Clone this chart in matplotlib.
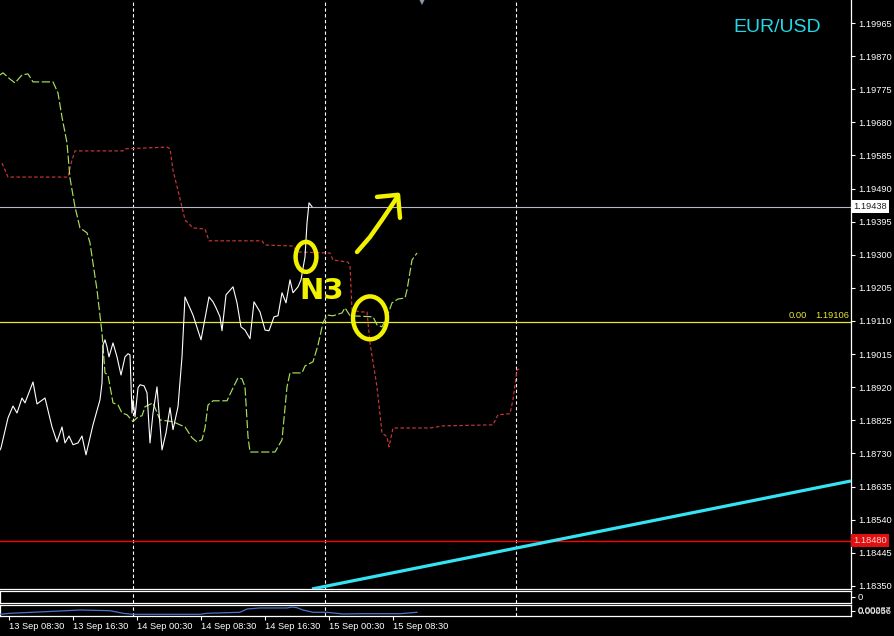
import matplotlib
matplotlib.use("Agg")
import matplotlib.pyplot as plt
from matplotlib.patches import Ellipse

plt.rcParams['font.family'] = ['Liberation Sans', 'DejaVu Sans']

# ---------------- data (x = hours after 13 Sep 08:30) ----------------
time_tick_pos = [0, 8, 16, 24, 32, 40, 48]
time_tick_labels = ['13 Sep 08:30', '13 Sep 16:30', '14 Sep 00:30', '14 Sep 08:30',
                    '14 Sep 16:30', '15 Sep 00:30', '15 Sep 08:30']
price_ticks = [1.18350, 1.18445, 1.18540, 1.18635, 1.18730, 1.18825, 1.18920, 1.19015,
               1.19110, 1.19205, 1.19300, 1.19395, 1.19490, 1.19585, 1.19680, 1.19775,
               1.19870, 1.19965]
day_separators = [15.5, 39.5, 63.375]

white_t = [-1.125, -1.0, -0.125, 0.5, 1.0, 1.625, 2.0, 3.0, 3.5, 4.5, 5.375, 6.0, 6.625, 7.0,
           7.5, 8.0, 8.625, 9.125, 9.625, 10.5, 11.375, 11.625, 11.75, 12.0, 12.25, 12.5, 13.0,
           13.5, 14.0, 14.5, 14.875, 15.125, 15.375, 15.5, 15.75, 16.125, 16.375, 16.875, 17.25,
           17.625, 18.0, 18.5, 19.125, 19.625, 20.125, 20.5, 21.125, 21.625, 22.0, 23.0, 24.0,
           25.0, 25.5, 25.875, 26.375, 26.625, 27.125, 28.0, 28.5, 29.0, 29.5, 30.125, 30.625,
           31.375, 32.0, 32.5, 33.125, 33.625, 34.125, 34.625, 35.125, 35.5, 36.125, 36.5, 37.0,
           37.25, 37.5, 37.875]
white_p = [1.18740, 1.18746, 1.18832, 1.18866, 1.18846, 1.18889, 1.18875, 1.18935, 1.18872,
           1.18889, 1.18806, 1.18763, 1.18806, 1.18760, 1.18780, 1.18755, 1.18760, 1.18780,
           1.18726, 1.18812, 1.18884, 1.18932, 1.19041, 1.19056, 1.19036, 1.19007, 1.19047,
           1.19007, 1.18955, 1.19007, 1.19016, 1.19013, 1.18846, 1.18884, 1.18835, 1.18918,
           1.18927, 1.18924, 1.18904, 1.18760, 1.18846, 1.18921, 1.18740, 1.18789, 1.18861,
           1.18798, 1.18864, 1.19007, 1.19179, 1.19127, 1.19056, 1.19179, 1.19165, 1.19148,
           1.19122, 1.19082, 1.19185, 1.19208, 1.19162, 1.19093, 1.19084, 1.19059, 1.19165,
           1.19136, 1.19084, 1.19082, 1.19122, 1.19125, 1.19191, 1.19162, 1.19228, 1.19191,
           1.19208, 1.19228, 1.19294, 1.19391, 1.19449, 1.19438]

red_t = [-0.875, -0.125, 7.375, 7.875, 8.25, 14.25, 14.5, 19.75, 20.125, 20.5, 21.625, 22.0,
         23.0, 24.5, 25.0, 31.625, 32.0, 35.5, 36.125, 40.125, 40.5, 42.375, 42.625, 42.875,
         43.875, 44.75, 45.125, 46.0, 46.625, 47.25, 47.5, 48.0, 52.625, 54.25, 60.5, 61.125,
         62.625, 63.0, 63.5, 63.875]
red_p = [1.19563, 1.19523, 1.19523, 1.19572, 1.19598, 1.19598, 1.19604, 1.19609, 1.19604,
         1.19543, 1.19437, 1.19400, 1.19377, 1.19374, 1.19340, 1.19340, 1.19328, 1.19325,
         1.19308, 1.19305, 1.19285, 1.19279, 1.19268, 1.19142, 1.19136, 1.19136, 1.19047,
         1.18921, 1.18789, 1.18778, 1.18749, 1.18803, 1.18803, 1.18809, 1.18812, 1.18841,
         1.18844, 1.18884, 1.18970, 1.18973]

green_t = [-1.125, -0.75, 0.125, 0.75, 1.625, 2.375, 3.0, 5.5, 6.125, 6.625, 7.25, 7.625, 8.25,
           8.875, 9.75, 10.125, 11.0, 11.625, 12.0, 12.375, 13.0, 13.625, 14.125, 14.75, 15.5,
           16.125, 16.625, 17.0, 18.0, 18.875, 20.5, 21.375, 22.0, 22.875, 23.5, 24.125, 24.5,
           24.875, 25.5, 27.25, 27.875, 28.625, 29.125, 29.5, 29.875, 30.125, 33.25, 34.125,
           34.75, 35.125, 36.625, 37.0, 38.0, 38.625, 39.25, 39.75, 40.5, 41.625, 42.0, 42.625,
           45.5, 46.0, 46.625, 47.25, 47.875, 48.625, 49.5, 49.75, 50.375, 51.0]
green_p = [1.19816, 1.19822, 1.19804, 1.19793, 1.19816, 1.19819, 1.19796, 1.19796, 1.19764,
           1.19695, 1.19621, 1.19520, 1.19437, 1.19377, 1.19363, 1.19334, 1.19199, 1.19076,
           1.18961, 1.18955, 1.18875, 1.18869, 1.18846, 1.18841, 1.18821, 1.18835, 1.18838,
           1.18864, 1.18875, 1.18826, 1.18821, 1.18812, 1.18806, 1.18775, 1.18763, 1.18769,
           1.18803, 1.18869, 1.18881, 1.18881, 1.18912, 1.18947, 1.18944, 1.18921, 1.18778,
           1.18734, 1.18734, 1.18769, 1.18921, 1.18961, 1.18961, 1.18981, 1.18993, 1.19041,
           1.19105, 1.19127, 1.19125, 1.19133, 1.19148, 1.19125, 1.19122, 1.19099, 1.19093,
           1.19122, 1.19162, 1.19173, 1.19176, 1.19199, 1.19285, 1.19305]

blue_t = [-1.125, 0.125, 7.25, 8.875, 12.625, 14.25, 15.5, 23.875, 24.75, 28.875, 29.75, 31.375,
          34.75, 35.375, 36.0, 36.75, 38.0, 39.75, 41.75, 43.875, 48.875, 51.0]
blue_v = [0.00037, 0.00059, 0.00116, 0.00131, 0.00116, 0.00059, 0.00037, 0.00037, 0.00059,
          0.00081, 0.00153, 0.00175, 0.00175, 0.00196, 0.00181, 0.00131, 0.00081, 0.00081,
          0.00044, 0.00050, 0.00050, 0.00081]

trend_t = [37.875, 105.25]
trend_p = [1.18341, 1.18651]

current_price = 1.19438
fibo_level = 1.19106
red_level = 1.18480
shift_marker_t = 51.625

# hand-drawn annotations (data coordinates)
ellipse1 = dict(t=37.125, p=1.19294, w=2.6, h=0.00086, angle=0)
ellipse2 = dict(t=45.125, p=1.19119, w=4.25, h=0.00123, angle=0)
n3_pos = (39.125, 1.19196)
arrow_shaft_t = [43.5, 45.125, 46.625, 47.625, 48.625]
arrow_shaft_p = [1.19308, 1.19351, 1.19400, 1.19434, 1.19469]
arrow_head_t = [46.0, 48.625, 48.875]
arrow_head_p = [1.19466, 1.19472, 1.19406]

XLIM = (-1.125, 105.25)
YLIM = (1.18341, 1.20031)

# ---------------- figure ----------------
W, H = 894, 636
fig = plt.figure(figsize=(W / 100, H / 100), dpi=100, facecolor='black')


def fax(x0, y0, x1, y1):
    return fig.add_axes([x0 / W, 1 - y1 / H, (x1 - x0) / W, (y1 - y0) / H])


ax = fax(0, 0, 851, 589)
ax1 = fax(0, 591, 851, 603)
ax2 = fax(0, 605, 851, 616)

FS = 6.7
for a in (ax, ax1, ax2):
    a.set_facecolor('black')
    a.set_xlim(*XLIM)
    for s in a.spines.values():
        s.set_color('white')
        s.set_linewidth(0.9)
    a.tick_params(axis='y', which='both', left=False, right=True, labelleft=False,
                  labelright=True, colors='white', length=3, width=0.8, pad=2,
                  labelsize=FS)
    for xs in day_separators:
        a.axvline(xs, color='white', lw=0.8, linestyle=(0, (3, 2.2)), zorder=1)

ax.spines['top'].set_visible(False)
ax.spines['left'].set_visible(False)
ax.set_ylim(*YLIM)
ax.set_yticks(price_ticks)
ax.set_yticklabels(['%.5f' % v for v in price_ticks])
ax.set_xticks([])
ax1.set_xticks([])

# horizontal levels
ax.axhline(current_price, color='#b4b8c4', lw=0.8, zorder=2)
ax.axhline(fibo_level, color='#e8e833', lw=0.9, zorder=2)
ax.axhline(red_level, color='#ff0000', lw=1.0, zorder=2, snap=True)

# indicator lines
ax.plot(red_t, red_p, color='#c83838', lw=0.85, linestyle=(0, (3, 2)), zorder=3)
ax.plot(green_t, green_p, color='#a8e05c', lw=0.85, linestyle=(0, (7, 2.2)), zorder=3)
ax.plot(white_t, white_p, color='white', lw=0.8, zorder=4)
ax.plot(trend_t, trend_p, color='#33e4f2', lw=2.3, zorder=4, solid_capstyle='butt')

# shift marker
ax.plot([shift_marker_t], [YLIM[1]], marker='v', ms=7, color='#8898a8', clip_on=False,
        zorder=6, markeredgewidth=0)

# price labels on axis
ax.annotate('%.5f' % current_price, xy=(1, current_price), xycoords=ax.get_yaxis_transform(),
            xytext=(1.8, 0), textcoords='offset points', ha='left', va='center', fontsize=FS,
            color='#202020', annotation_clip=False,
            bbox=dict(boxstyle='square,pad=0.22', fc='white', ec='none'))
ax.annotate('%.5f' % red_level, xy=(1, red_level), xycoords=ax.get_yaxis_transform(),
            xytext=(1.8, 0), textcoords='offset points', ha='left', va='center', fontsize=FS,
            color='#ffd0d0', annotation_clip=False,
            bbox=dict(boxstyle='square,pad=0.22', fc='#e01010', ec='none'))
ax.annotate('%.5f' % fibo_level, xy=(1, fibo_level), xycoords=ax.get_yaxis_transform(),
            xytext=(-1.5, 1.5), textcoords='offset points', ha='right', va='bottom',
            fontsize=FS, color='#e8e833')
ax.annotate('0.00', xy=(1, fibo_level), xycoords=ax.get_yaxis_transform(),
            xytext=(-31.5, 1.5), textcoords='offset points', ha='right', va='bottom',
            fontsize=FS, color='#e8e833')

# symbol
fig.text(733 / W, 1 - 27 / H, 'EUR/USD', color='#22d8e8', fontsize=14, ha='left', va='center')

# hand-drawn yellow marks
YEL = '#f2f200'
for e in (ellipse1, ellipse2):
    ax.add_patch(Ellipse((e['t'], e['p']), e['w'], e['h'], angle=e['angle'], fill=False,
                         ec=YEL, lw=3.2, zorder=7))
ax.text(n3_pos[0], n3_pos[1], 'N3', color=YEL, fontsize=21, fontweight='bold',
        ha='center', va='center', zorder=7, family='DejaVu Sans')
ax.plot(arrow_shaft_t, arrow_shaft_p, color=YEL, lw=3.2, solid_capstyle='round', zorder=7)
ax.plot(arrow_head_t, arrow_head_p, color=YEL, lw=3.2, solid_capstyle='round',
        solid_joinstyle='round', zorder=7)

# sub-window 1
ax1.set_ylim(-1, 1)
ax1.set_yticks([0])
ax1.set_yticklabels(['0'])

# sub-window 2
ax2.set_ylim(0, 0.0024)
ax2.plot(blue_t, blue_v, color='#4a74cc', lw=0.9, zorder=3)
ax2.set_yticks([0.0012])
ax2.set_yticklabels(['0.00056'])
ax2.annotate('0.00237', xy=(1, 0.0012), xycoords=ax2.get_yaxis_transform(),
             xytext=(5, 0), textcoords='offset points', ha='left', va='center',
             fontsize=FS, color='white', alpha=0.8, annotation_clip=False)

ax2.set_xticks(time_tick_pos)
ax2.set_xticklabels(time_tick_labels)
ax2.tick_params(axis='x', colors='white', length=3, width=0.8, pad=1.5, labelsize=FS,
                direction='out')
for lab in ax2.get_xticklabels():
    lab.set_ha('left')

fig.savefig('out.png', dpi=100, facecolor='black')
